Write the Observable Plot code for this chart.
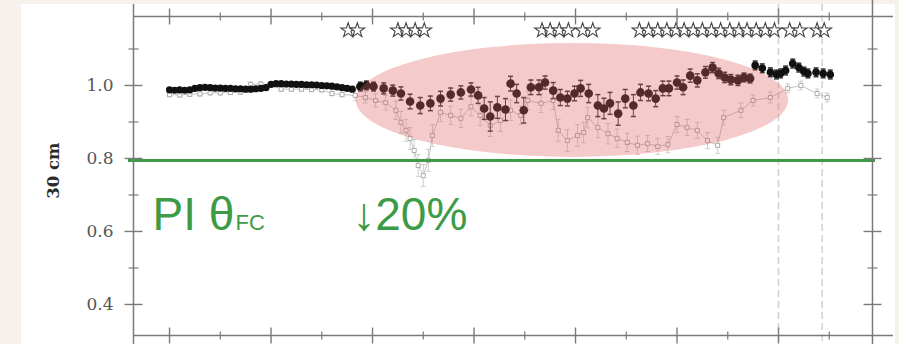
<!DOCTYPE html>
<html>
<head>
<meta charset="utf-8">
<script src="https://cdn.jsdelivr.net/npm/d3@7"></script>
<script src="https://cdn.jsdelivr.net/npm/@observablehq/plot@0.6"></script>
<style>
  html, body { margin: 0; padding: 0; background: #f6f1ea; width: 899px; height: 344px; overflow: hidden; }
  #panel { position: absolute; left: 21px; top: 4px; width: 874px; height: 340px; background: #ffffff; }
  #chart { position: absolute; left: 0; top: 0; }
</style>
</head>
<body>
<div id="panel"></div>
<div id="chart"></div>
<script>
// ---- axis definitions ----
const xDomain = [-3.55, 69.26];
const yDomain = [0.315, 1.189];
const xMajor = [0, 10, 20, 30, 40, 50, 60];
const xMinor = [5, 15, 25, 35, 45, 55, 65];
const yMajor = [0.4, 0.6, 0.8, 1.0];
const yMinor = [0.5, 0.7, 0.9, 1.1];
const yLabels = ["0.4", "0.6", "0.8", "1.0"];
const dashedX = [60.0, 64.3];

// ---- series A (filled black dots) ----
const aEarlyX = [0,0.5,1,1.5,2,2.5,3,3.5,4,4.5,5,5.5,6,6.5,7,7.5,8,8.5,9,9.5,10,10.5,11,11.5,12,12.5,13,13.5,14,14.5,15,15.5,16,16.5,17,17.5,18];
const aEarlyY = [0.988,0.987,0.988,0.987,0.988,0.992,0.994,0.995,0.994,0.993,0.993,0.992,0.992,0.991,0.991,0.990,0.990,0.991,0.992,0.994,1.003,1.005,1.005,1.004,1.004,1.003,1.003,1.002,1.002,1.001,1.000,0.999,0.998,0.996,0.994,0.992,0.990];
const aMidX = [18.8,19.4,20.1,21.1,22.0,22.8,23.7,24.7,25.7,26.7,27.7,28.7,29.7,30.4,31.0,31.6,32.3,33.1,33.6,34.2,34.9,35.6,36.4,37.0,37.8,38.5,39.2,39.9,40.5,41.3,42.2,42.8,43.4,44.2,44.9,45.7,46.4,47.2,47.9,48.6,49.2,50.0,50.6,51.3,52.0,52.8,53.5,54.1,54.7,55.3,56.0,56.6,57.2];
const aMidY = [0.997,1.000,0.997,0.992,0.986,0.978,0.956,0.945,0.951,0.964,0.975,0.981,0.989,0.973,0.937,0.915,0.940,0.934,1.005,0.978,0.932,0.995,0.995,1.008,0.986,0.967,0.964,0.978,0.992,0.978,0.945,0.937,0.951,0.923,0.964,0.945,0.981,0.978,0.964,0.992,0.992,1.008,0.995,1.027,1.014,1.036,1.049,1.033,1.022,1.016,1.014,1.022,1.019];
const aMidErr = [0.012,0.012,0.012,0.015,0.015,0.018,0.020,0.022,0.020,0.020,0.018,0.018,0.018,0.022,0.030,0.040,0.030,0.030,0.020,0.025,0.035,0.020,0.020,0.018,0.022,0.022,0.020,0.020,0.022,0.025,0.030,0.028,0.030,0.032,0.025,0.030,0.022,0.020,0.022,0.020,0.020,0.018,0.020,0.018,0.018,0.016,0.014,0.014,0.014,0.014,0.014,0.012,0.012];
const aLateX = [57.7,58.4,59.2,59.8,60.2,60.7,61.4,62.0,62.5,62.9,63.7,64.4,65.1];
const aLateY = [1.055,1.047,1.036,1.030,1.033,1.041,1.060,1.049,1.038,1.033,1.036,1.033,1.030];

// ---- series B (open grey markers) ----
const bX = [0,1,2,3,4,5,6,7,8,9,10,11,12,13,14,15,16,17,18.3,19.3,20.3,21.3,22.3,22.8,23.3,23.7,24.1,24.5,25.0,25.5,25.9,26.7,27.7,28.7,29.7,30.6,31.6,32.6,33.6,34.6,35.3,36.6,37.8,38.3,39.2,40.2,40.8,41.2,42.2,43.2,44.1,45.1,46.1,47.1,48.1,49.1,50.0,51.0,52.0,53.0,54.0,54.6,56.3,57.5,59.2,60.9,62.2,63.8,64.8];
const bY = [0.975,0.974,0.976,0.977,0.980,0.980,0.981,0.982,1.003,1.004,1.003,0.990,0.990,0.990,0.989,0.988,0.978,0.975,0.973,0.967,0.959,0.953,0.932,0.899,0.877,0.855,0.822,0.781,0.753,0.795,0.863,0.926,0.918,0.910,0.942,0.918,0.890,0.904,0.932,0.918,0.959,0.951,0.959,0.877,0.849,0.863,0.871,0.912,0.885,0.868,0.855,0.844,0.836,0.841,0.833,0.838,0.893,0.885,0.877,0.849,0.836,0.912,0.932,0.959,0.967,0.992,1.000,0.978,0.967];
const bErr = [0.006,0.006,0.006,0.006,0.006,0.006,0.006,0.006,0.006,0.006,0.006,0.006,0.006,0.006,0.006,0.006,0.006,0.006,0.015,0.015,0.018,0.020,0.025,0.030,0.030,0.030,0.030,0.030,0.030,0.030,0.030,0.025,0.025,0.025,0.025,0.028,0.030,0.030,0.028,0.025,0.025,0.025,0.025,0.030,0.030,0.030,0.028,0.028,0.028,0.028,0.025,0.025,0.025,0.022,0.022,0.022,0.022,0.022,0.022,0.022,0.022,0.020,0.020,0.015,0.015,0.012,0.012,0.012,0.012];

// ---- significance stars ----
const starX = [17.6,18.5,22.5,23.3,24.2,25.1,36.7,37.5,38.4,39.3,40.7,41.7,46.3,47.2,48.1,49.0,49.9,50.7,51.6,52.5,53.4,54.3,55.2,56.1,56.9,57.8,58.7,59.6,61.1,62.1,63.8,64.5];
const starLevel = 1.151;

// ---- annotations ----
const refLevel = 0.8;
const ellipseSpec = {cx: 39.7, cy: 0.959, rx: 21.3, ry: 0.156};
const notes = [
  {t: "PI θ", x: -1.67, v: 0.603, size: 46},
  {t: "FC", x: 6.5, v: 0.603, size: 22},
  {t: "↓20%", x: 18.0, v: 0.603, size: 46}
];
const yTitle = "30 cm";
const yTitlePos = 0.69;

// build tables
const early = aEarlyX.map((x, i) => ({x, v: aEarlyY[i]}));
const mid = aMidX.map((x, i) => ({x, v: aMidY[i], e: aMidErr[i]}));
const late = aLateX.map((x, i) => ({x, v: aLateY[i], e: 0.012}));
const B = bX.map((x, i) => ({x, v: bY[i], e: bErr[i]}));
const stars = starX.map(x => ({x, v: starLevel}));

const hTick = len => ({draw(ctx) { ctx.moveTo(-len, 0); ctx.lineTo(len, 0); }});
const vTick = len => ({draw(ctx) { ctx.moveTo(0, -len); ctx.lineTo(0, len); }});
const cap = hTick(2.5);
const axisColor = "#7a7a7a";

const ellipseMark = Plot.dot([ellipseSpec], {
  x: "cx", y: "cy",
  render: (index, scales, values, dims, context) => {
    const g = d3.create("svg:g");
    const e = ellipseSpec;
    g.append("ellipse")
      .attr("cx", scales.x(e.cx))
      .attr("cy", scales.y(e.cy))
      .attr("rx", Math.abs(scales.x(e.cx + e.rx) - scales.x(e.cx)))
      .attr("ry", Math.abs(scales.y(e.cy - e.ry) - scales.y(e.cy)))
      .attr("fill", "#e05e5e")
      .attr("fill-opacity", 0.33);
    return g.node();
  }
});

const chart = Plot.plot({
  width: 899,
  height: 344,
  marginLeft: 133,
  marginRight: 27,
  marginTop: 16,
  marginBottom: 9,
  style: {background: "transparent", overflow: "visible"},
  x: {domain: xDomain, axis: null},
  y: {domain: yDomain, axis: null},
  marks: [
    // dashed vertical guides
    Plot.ruleX(dashedX, {stroke: "#d4d4d4", strokeDasharray: "7,4", strokeWidth: 1.6, insetTop: -12, insetBottom: -9}),
    // series B
    Plot.line(B, {x: "x", y: "v", stroke: "#b5b5b5", strokeWidth: 0.8}),
    Plot.ruleX(B, {x: "x", y1: d => d.v - d.e, y2: d => d.v + d.e, stroke: "#c4c4c4", strokeWidth: 0.8}),
    Plot.dot(B, {x: "x", y: d => d.v + d.e, symbol: cap, stroke: "#c4c4c4", fill: "none", strokeWidth: 0.8}),
    Plot.dot(B, {x: "x", y: d => d.v - d.e, symbol: cap, stroke: "#c4c4c4", fill: "none", strokeWidth: 0.8}),
    Plot.dot(B, {x: "x", y: "v", symbol: "square", r: 2.3, stroke: "#9a9a9a", fill: "white", strokeWidth: 0.8}),
    // series A error bars
    Plot.ruleX(mid.concat(late), {x: "x", y1: d => d.v - d.e, y2: d => d.v + d.e, stroke: "#333", strokeWidth: 1}),
    Plot.dot(mid.concat(late), {x: "x", y: d => d.v + d.e, symbol: cap, stroke: "#333", fill: "none"}),
    Plot.dot(mid.concat(late), {x: "x", y: d => d.v - d.e, symbol: cap, stroke: "#333", fill: "none"}),
    // series A dots
    Plot.dot(early, {x: "x", y: "v", r: 3.6, fill: "#111", stroke: "none"}),
    Plot.dot(mid, {x: "x", y: "v", r: 4.3, fill: "#111", stroke: "none"}),
    Plot.dot(late, {x: "x", y: "v", r: 3.8, fill: "#111", stroke: "none"}),
    // highlighted region
    ellipseMark,
    // reference line
    Plot.ruleY([refLevel], {stroke: "#3d9b45", strokeWidth: 3, dy: 2, insetLeft: -5, insetRight: -3}),
    // stars
    Plot.dot(stars, {x: "x", y: "v", symbol: "star", r: 4.6, stroke: "#444", fill: "white", strokeWidth: 1.1}),
    // axis lines
    Plot.ruleX([xDomain[0]], {stroke: axisColor, strokeWidth: 1.5, insetTop: -12, insetBottom: -9}),
    Plot.ruleX([xDomain[1]], {stroke: axisColor, strokeWidth: 1.5, insetTop: -16, insetBottom: -9}),
    Plot.ruleY([yDomain[0], yDomain[1]], {stroke: axisColor, strokeWidth: 1.5, insetRight: -21}),
    // ticks left/right
    Plot.dot(yMajor, {y: d => d, frameAnchor: "left", symbol: hTick(9), stroke: axisColor, fill: "none", strokeWidth: 1.4}),
    Plot.dot(yMinor, {y: d => d, frameAnchor: "left", symbol: hTick(5), stroke: axisColor, fill: "none", strokeWidth: 1.2}),
    Plot.dot(yMajor, {y: d => d, frameAnchor: "right", symbol: hTick(9), stroke: axisColor, fill: "none", strokeWidth: 1.4}),
    Plot.dot(yMinor, {y: d => d, frameAnchor: "right", symbol: hTick(5), stroke: axisColor, fill: "none", strokeWidth: 1.2}),
    // ticks top/bottom
    Plot.dot(xMajor, {x: d => d, frameAnchor: "top", symbol: vTick(8), stroke: axisColor, fill: "none", strokeWidth: 1.4}),
    Plot.dot(xMinor, {x: d => d, frameAnchor: "top", symbol: vTick(4), stroke: axisColor, fill: "none", strokeWidth: 1.2}),
    Plot.dot(xMajor, {x: d => d, frameAnchor: "bottom", symbol: vTick(8), stroke: axisColor, fill: "none", strokeWidth: 1.4}),
    Plot.dot(xMinor, {x: d => d, frameAnchor: "bottom", symbol: vTick(4), stroke: axisColor, fill: "none", strokeWidth: 1.2}),
    // y tick labels
    Plot.text(yMajor, {y: d => d, text: (d, i) => yLabels[i], frameAnchor: "left", dx: -20, textAnchor: "end",
      fontFamily: "DejaVu Serif", fontSize: 17, fill: "#555"}),
    // y title
    Plot.text([yTitle], {y: () => yTitlePos, text: d => d, frameAnchor: "left", dx: -80, rotate: -90,
      fontFamily: "DejaVu Serif", fontWeight: "bold", fontSize: 16.5, fill: "#2a2a2a"}),
    // green annotations
    Plot.text(notes, {x: "x", y: "v", text: "t", fontSize: d => d.size, textAnchor: "start", lineAnchor: "bottom",
      fontFamily: "Liberation Sans", fill: "#3d9b45"})
  ]
});

document.getElementById("chart").appendChild(chart);
</script>
</body>
</html>
